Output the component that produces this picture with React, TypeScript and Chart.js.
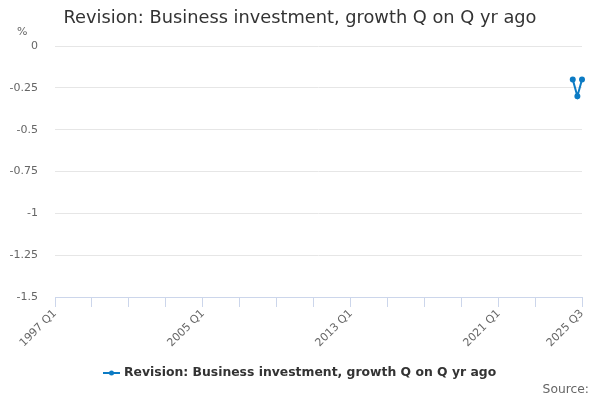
import React, { useEffect, useRef } from "react";
import { Chart, registerables } from "chart.js";

Chart.register(...registerables);

const TITLE = "Revision: Business investment, growth Q on Q yr ago";
const SERIES_NAME = "Revision: Business investment, growth Q on Q yr ago";
const FIRST_YEAR = 1997;
const LAST_YEAR = 2025;
const LAST_QUARTER = 3;
const periods = ["2025 Q1", "2025 Q2", "2025 Q3"];
const values = [-0.2, -0.3, -0.2];
const labelPeriods = ["1997 Q1", "2005 Q1", "2013 Q1", "2021 Q1", "2025 Q3"];
const yTicks = [0, -0.25, -0.5, -0.75, -1, -1.25, -1.5];

const categories: string[] = [];
for (let y = FIRST_YEAR; y <= LAST_YEAR; y++) {
  for (let q = 1; q <= 4; q++) {
    if (y === LAST_YEAR && q > LAST_QUARTER) break;
    categories.push(`${y} Q${q}`);
  }
}

const FONT = "'DejaVu Sans', Verdana, sans-serif";
const BLUE = "#0c7bc4";

export default function App() {
  const ref = useRef<HTMLCanvasElement>(null);
  useEffect(() => {
    document.body.style.margin = "0";
    const tickIdx: number[] = [];
    for (let i = 0; i < categories.length - 4; i += 8) tickIdx.push(i);
    tickIdx.push(categories.length - 1);

    const textPlugin = {
      id: "texts",
      afterDraw(chart: any) {
        const c = chart.ctx;
        c.save();
        c.fillStyle = "#333";
        c.font = `17.8px ${FONT}`;
        c.textAlign = "center";
        c.textBaseline = "middle";
        c.fillText(TITLE, 300, 18);
        c.fillStyle = "#666";
        c.font = `11px ${FONT}`;
        c.textAlign = "left";
        c.fillText("%", 17, 32);
        c.font = `12.3px ${FONT}`;
        c.textAlign = "right";
        c.fillText("Source:", 589, 390);
        // legend
        c.strokeStyle = BLUE;
        c.lineWidth = 2;
        c.beginPath();
        c.moveTo(103, 373);
        c.lineTo(120, 373);
        c.stroke();
        c.fillStyle = BLUE;
        c.beginPath();
        c.arc(111.5, 373, 2.5, 0, Math.PI * 2);
        c.fill();
        c.fillStyle = "#333";
        c.font = `bold 12.4px ${FONT}`;
        c.textAlign = "left";
        c.fillText(SERIES_NAME, 124, 373);
        c.restore();
      },
    };

    const chart = new Chart(ref.current!, {
      type: "line",
      data: {
        labels: categories,
        datasets: [
          {
            label: SERIES_NAME,
            data: periods.map((p, i) => ({ x: p, y: values[i] })),
            borderColor: BLUE,
            backgroundColor: BLUE,
            borderWidth: 2,
            pointRadius: 2,
            pointHoverRadius: 2,
            tension: 0,
          },
        ],
      },
      options: {
        animation: false,
        responsive: false,
        layout: { padding: { left: 0, right: 18, top: 46, bottom: 0 } },
        plugins: { legend: { display: false }, title: { display: false }, tooltip: { enabled: false } },
        scales: {
          x: {
            type: "category",
            offset: false,
            afterFit: (s: any) => { s.height = 103; },
            afterBuildTicks: (s: any) => { s.ticks = tickIdx.map((v) => ({ value: v })); },
            border: { color: "#ccd6eb", width: 1 },
            grid: { drawOnChartArea: false, drawTicks: true, tickLength: 10, color: "#ccd6eb" },
            ticks: {
              autoSkip: false,
              maxRotation: 45,
              minRotation: 45,
              padding: 0,
              color: "#666",
              font: { family: FONT, size: 11 },
              callback: (v: any) => {
                const l = categories[v];
                return labelPeriods.includes(l) ? l : "";
              },
            },
          },
          y: {
            min: -1.5,
            max: 0,
            afterFit: (s: any) => { s.width = 55; },
            afterBuildTicks: (s: any) => { s.ticks = yTicks.map((v) => ({ value: v })); },
            border: { display: false },
            grid: { color: "#e6e6e6", drawTicks: false },
            ticks: {
              padding: 17,
              color: "#666",
              font: { family: FONT, size: 11 },
              callback: (v: any) => String(v),
            },
          },
        },
      },
      plugins: [textPlugin],
    });
    return () => chart.destroy();
  }, []);
  return (
    <div style={{ width: 600, height: 400 }}>
      <canvas ref={ref} width={600} height={400} style={{ width: 600, height: 400 }} />
    </div>
  );
}
